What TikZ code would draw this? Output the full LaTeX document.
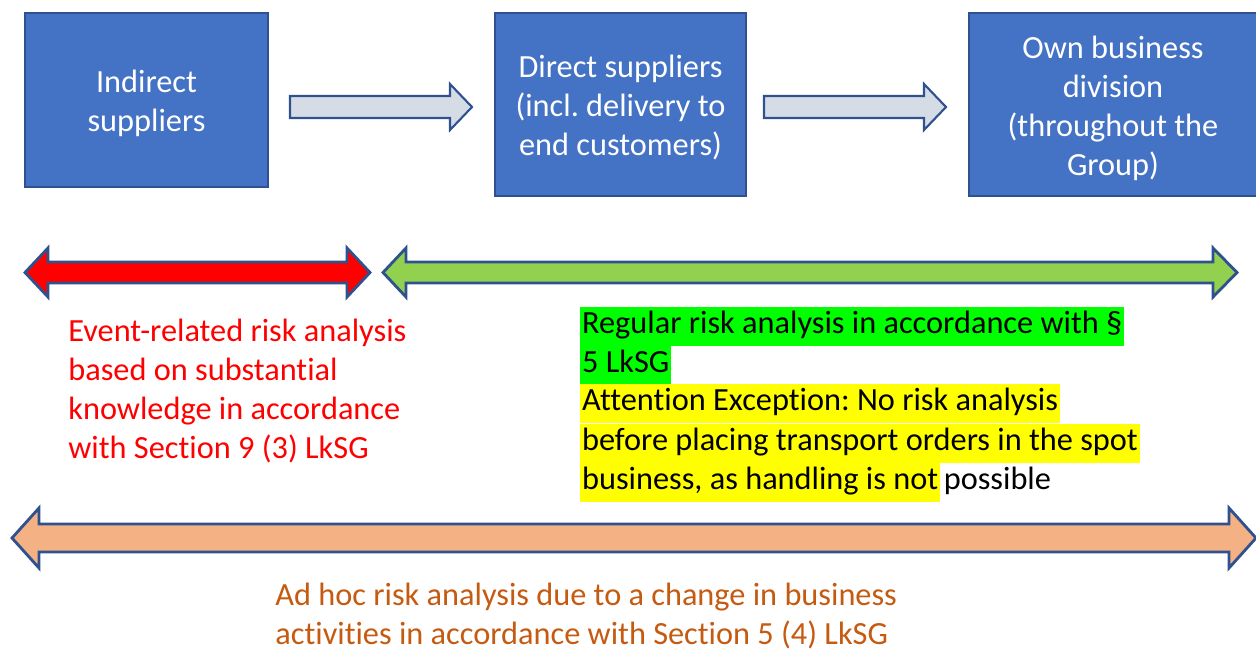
\documentclass[tikz,border=0pt]{standalone}
\usepackage{fontspec}
\setmainfont{Carlito}[Ligatures={NoCommon,NoRare},RawFeature={-liga;-dlig}]
\frenchspacing
\usetikzlibrary{positioning}
\definecolor{boxblue}{HTML}{4472C4}
\definecolor{edgeblue}{HTML}{2F528F}
\definecolor{flowgrey}{HTML}{D6DCE5}
\definecolor{eventred}{HTML}{FF0000}
\definecolor{regulargreen}{HTML}{92D050}
\definecolor{adhocorange}{HTML}{F4B183}
\definecolor{adhoctext}{HTML}{C55A11}
\definecolor{hlgreen}{HTML}{00FF00}
\definecolor{hlyellow}{HTML}{FFFF00}
\tikzset{
    stage/.style={rectangle,draw=edgeblue,fill=boxblue,line width=1pt,inner sep=0pt,text=white,align=center,font=\fontsize{18.4}{22.2}\selectfont},
    flowarrow/.style={draw=edgeblue,fill=flowgrey,line width=1.2pt,line join=miter},
    scopearrow/.style={draw=edgeblue,line width=1.6pt,line join=miter},
    note/.style={anchor=west,inner sep=0pt,align=left,font=\fontsize{18.4}{22.2}\selectfont},
    hl/.style={anchor=west,inner xsep=1pt,inner ysep=0pt,minimum height=0.78cm,text height=13pt,text depth=4pt,font=\fontsize{18.4}{22.2}\selectfont},
}
\begin{document}
\begin{tikzpicture}[x=0.02cm,y=-0.02cm]
    \useasboundingbox (0,0) rectangle (1256,650);

    % stages of the supply chain
    \node[stage,minimum width=243*0.02cm,minimum height=174*0.02cm] (indirect) at (146.5,100) {};
    \node[text=white,align=center,font=\fontsize{18.4}{22.2}\selectfont] (indirecttext) at (146.5,103) {Indirect\\suppliers};
    \node[stage,minimum width=251*0.02cm,minimum height=183*0.02cm] (direct) at (620.5,104.5) {};
    \node[text=white,align=center,font=\fontsize{18.4}{22.2}\selectfont] (directtext) at (620.5,108) {Direct suppliers\\(incl. delivery to\\end customers)};
    \node[stage,minimum width=290*0.02cm,minimum height=183*0.02cm] (own) at (1114,104.5) {};
    \node[text=white,align=center,font=\fontsize{18.4}{22.2}\selectfont] (owntext) at (1113,108.5) {Own business\\division\\(throughout the\\Group)};

    % flow between stages
    \draw[flowarrow] (290,96) -- (450,96) -- (450,84) -- (472,107) -- (450,130) -- (450,118) -- (290,118) -- cycle;
    \draw[flowarrow] (764,96) -- (924,96) -- (924,84) -- (946,107) -- (924,130) -- (924,118) -- (764,118) -- cycle;

    % scope of the analyses
    \draw[scopearrow,fill=eventred] (25,272.5) -- (48,248) -- (48,262) -- (347,262) -- (347,248) -- (370,272.5) -- (347,297) -- (347,283) -- (48,283) -- (48,297) -- cycle;
    \draw[scopearrow,fill=regulargreen] (383,272.5) -- (406,248) -- (406,262) -- (1213,262) -- (1213,248) -- (1237,272.5) -- (1213,297) -- (1213,283) -- (406,283) -- (406,297) -- cycle;
    \draw[scopearrow,fill=adhocorange] (12,538) -- (39,508) -- (39,524) -- (1229,524) -- (1229,508) -- (1256,538) -- (1229,568) -- (1229,552) -- (39,552) -- (39,568) -- cycle;

    % texts
    \node[note,text=eventred] (eventtext) at (68,391) {Event-related risk analysis\\based on substantial\\knowledge in accordance\\with Section 9 (3) LkSG};
    \node[hl,fill=hlgreen] (reg1) at (580,326) {Regular risk analysis in accordance with \S};
    \node[hl,fill=hlgreen] (reg2) at (580,365) {5 LkSG};
    \node[hl,fill=hlyellow] (exc1) at (580,403) {Attention Exception: No risk analysis};
    \node[hl,fill=hlyellow] (exc2) at (580,443) {before placing transport orders in the spot};
    \node[hl,fill=hlyellow] (exc3) at (580,482) {business, as handling is not};
    \node[hl,inner xsep=0pt,xshift=0.06cm] (exc4) at (exc3.east) {possible};
    \node[note,text=adhoctext] (adhoctext) at (275,616) {Ad hoc risk analysis due to a change in business\\activities in accordance with Section 5 (4) LkSG};
\end{tikzpicture}
\end{document}
